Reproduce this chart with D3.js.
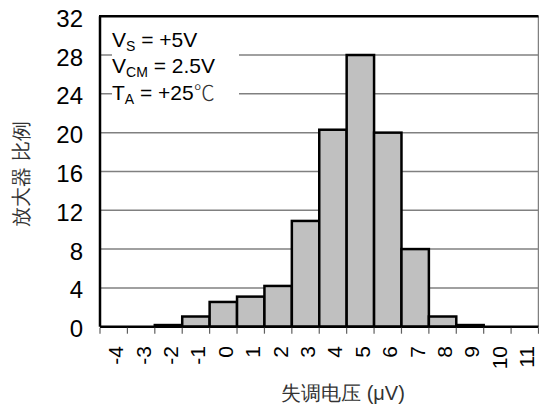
<!DOCTYPE html>
<html>
<head>
<meta charset="utf-8">
<script src="https://cdn.jsdelivr.net/npm/d3@7"></script>
<style>
  body { margin: 0; background: #fff; }
  svg { display: block; }
  text { font-family: "Liberation Sans", Arial, sans-serif; }
</style>
</head>
<body>
<script>
// histogram data
var bins = ["-4", "-3", "-2", "-1", "0", "1", "2", "3", "4", "5", "6", "7", "8", "9", "10", "11"];
var counts = [0, 0, 0.17, 1.05, 2.55, 3.1, 4.2, 10.9, 20.3, 28, 20.0, 8.0, 1.05, 0.17, 0, 0];
var yTicks = [0, 4, 8, 12, 16, 20, 24, 28, 32];

var width = 539,
  height = 410;
var plotL = 100, plotR = 538.5, plotT = 16.2, plotB = 326.7;

var svg = d3.select("body").append("svg").attr("width", width).attr("height", height);

var x = d3.scaleBand().domain(bins).range([plotL, plotR]).padding(0);
var y = d3.scaleLinear().domain([0, 32]).range([plotB, plotT]);

// gridlines
svg.append("g")
  .selectAll("line")
  .data(yTicks.filter((d) => d > 0 && d < 32))
  .enter()
  .append("line")
  .attr("x1", plotL)
  .attr("x2", plotR)
  .attr("y1", (d) => y(d))
  .attr("y2", (d) => y(d))
  .attr("stroke", "#808080")
  .attr("stroke-width", 1.5);

// white box behind the conditions text
svg.append("rect")
  .attr("x", 112)
  .attr("y", 24)
  .attr("width", 127)
  .attr("height", 84)
  .attr("fill", "#fff");

// bars
svg.append("g")
  .selectAll("rect")
  .data(bins.map((b, i) => ({ bin: b, v: counts[i] })).filter((d) => d.v > 0))
  .enter()
  .append("rect")
  .attr("x", (d) => x(d.bin))
  .attr("y", (d) => y(d.v))
  .attr("width", x.bandwidth())
  .attr("height", (d) => plotB - y(d.v))
  .attr("fill", "#c0c0c0")
  .attr("stroke", "#000")
  .attr("stroke-width", 2.5);

// frame
svg.append("line").attr("x1", plotR).attr("x2", plotR).attr("y1", plotT).attr("y2", plotB)
  .attr("stroke", "#808080").attr("stroke-width", 1.5);
svg.append("line").attr("x1", plotL - 1).attr("x2", plotR).attr("y1", plotT).attr("y2", plotT)
  .attr("stroke", "#000").attr("stroke-width", 2.5);
svg.append("line").attr("x1", plotL).attr("x2", plotL).attr("y1", plotT).attr("y2", plotB)
  .attr("stroke", "#000").attr("stroke-width", 2.5);
svg.append("line").attr("x1", plotL).attr("x2", plotR).attr("y1", plotB).attr("y2", plotB)
  .attr("stroke", "#000").attr("stroke-width", 2.5);

// x ticks at bin edges
var edges = bins.map((b) => x(b)).concat([plotR]);
svg.append("g")
  .selectAll("line")
  .data(edges)
  .enter()
  .append("line")
  .attr("x1", (d) => d)
  .attr("x2", (d) => d)
  .attr("y1", plotB + 1)
  .attr("y2", plotB + 7)
  .attr("stroke", "#606060")
  .attr("stroke-width", 1.2);

// x tick labels, rotated
svg.append("g")
  .selectAll("text")
  .data(bins)
  .enter()
  .append("text")
  .attr("transform", (d) => "translate(" + (x(d) + x.bandwidth() / 2 + 2) + "," + 346 + ") rotate(-90)")
  .attr("text-anchor", "end")
  .attr("dominant-baseline", "central")
  .attr("font-size", "21px")
  .attr("fill", "#000")
  .text((d) => d);

// y tick labels
svg.append("g")
  .selectAll("text")
  .data(yTicks)
  .enter()
  .append("text")
  .attr("x", 83)
  .attr("y", (d) => y(d) + 2)
  .attr("text-anchor", "end")
  .attr("dominant-baseline", "central")
  .attr("font-size", "24px")
  .attr("fill", "#000")
  .text((d) => d);

// conditions
var cond = svg.append("g").attr("font-size", "21px").attr("fill", "#000");
var t1 = cond.append("text").attr("x", 112).attr("y", 47);
t1.append("tspan").text("V");
t1.append("tspan").attr("font-size", "14px").attr("dy", 4).text("S");
t1.append("tspan").attr("dy", -4).text(" = +5V");
var t2 = cond.append("text").attr("x", 112).attr("y", 73);
t2.append("tspan").text("V");
t2.append("tspan").attr("font-size", "14px").attr("dy", 4).text("CM");
t2.append("tspan").attr("dy", -4).text(" = 2.5V");
var t3 = cond.append("text").attr("x", 112).attr("y", 100);
t3.append("tspan").text("T");
t3.append("tspan").attr("font-size", "14px").attr("dy", 4).text("A");
t3.append("tspan").attr("dy", -4).text(" = +25");
t3.append("tspan").attr("font-family", "Noto Sans CJK SC").attr("font-weight", 300).attr("fill", "#333").text("℃");

// axis titles
svg.append("text")
  .attr("transform", "translate(21,174) rotate(-90)")
  .attr("text-anchor", "middle")
  .attr("dominant-baseline", "central")
  .attr("font-family", "Noto Sans CJK SC")
  .attr("font-weight", 300)
  .attr("font-size", "20px")
  .attr("fill", "#333")
  .text("放大器 比例");

svg.append("text")
  .attr("x", 343)
  .attr("y", 400)
  .attr("text-anchor", "middle")
  .attr("font-family", "Noto Sans CJK SC")
  .attr("font-weight", 300)
  .attr("font-size", "20px")
  .attr("fill", "#333")
  .text("失调电压 (μV)");
</script>
</body>
</html>
